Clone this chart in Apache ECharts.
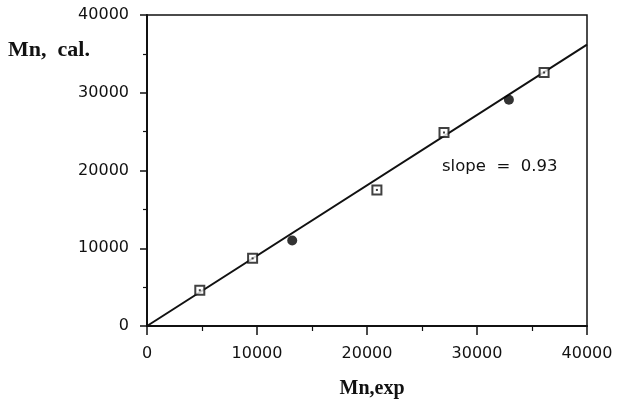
<!DOCTYPE html>
<html>
<head>
<meta charset="utf-8">
<script src="https://cdn.jsdelivr.net/npm/echarts@6/dist/echarts.min.js"></script>
<style>
  html, body { margin: 0; padding: 0; background: #fff; }
  #chart { width: 619px; height: 400px; }
</style>
</head>
<body>
<div id="chart"></div>
<script>
  // measured points (open squares / filled circles)
  const squareX = [4800, 9600, 20900, 27000, 36100]
  const squareY = [4600, 8700, 17500, 24900, 32600]
  const circleX = [13200, 32900]
  const circleY = [11000, 29100]
  // fitted line end points
  const fitX = [0, 40000]
  const fitY = [0, 36200]
  const slopeText = 'slope  =  0.93'

  const pairs = (xs, ys) => xs.map((x, i) => [x, ys[i]])

  const myChart = echarts.init(document.getElementById('chart'))
  const tickFont = { color: '#111', fontSize: 16, fontFamily: 'DejaVu Sans', formatter: v => String(v) }

  const option = {
    animation: false,
    grid: {
      left: 147, top: 15, width: 440, height: 311,
      outerBoundsMode: 'none', containLabel: false,
      show: true, borderColor: '#111', borderWidth: 1.5, backgroundColor: 'transparent'
    },
    xAxis: {
      type: 'value', min: 0, max: 40000, interval: 10000,
      name: 'Mn,exp', nameLocation: 'middle', nameGap: 53,
      nameTextStyle: { color: '#111', fontSize: 20, fontWeight: 'bold', fontFamily: 'Liberation Serif', padding: [0, 0, 0, 10] },
      axisLine: { lineStyle: { color: '#111', width: 2 } },
      axisTick: { length: 9, lineStyle: { color: '#111', width: 1.5 } },
      minorTick: { show: true, splitNumber: 2, length: 5, lineStyle: { color: '#111', width: 1.2 } },
      splitLine: { show: false },
      axisLabel: Object.assign({ margin: 20 }, tickFont)
    },
    yAxis: {
      type: 'value', min: 0, max: 40000, interval: 10000,
      axisLine: { show: true, lineStyle: { color: '#111', width: 2 } },
      axisTick: { show: true, length: 7, lineStyle: { color: '#111', width: 1.5 } },
      minorTick: { show: true, splitNumber: 2, length: 4, lineStyle: { color: '#111', width: 1.2 } },
      splitLine: { show: false },
      axisLabel: Object.assign({ margin: 18 }, tickFont)
    },
    graphic: [
      {
        type: 'text', left: 8, top: 39,
        style: { text: 'Mn,  cal.', fill: '#111', font: 'bold 22px "Liberation Serif"' }
      },
      {
        type: 'text', left: 442, top: 158,
        style: { text: slopeText, fill: '#111', font: '16.5px "DejaVu Sans"' }
      }
    ],
    series: [
      {
        type: 'line',
        data: pairs(fitX, fitY),
        symbol: 'none',
        lineStyle: { color: '#111', width: 2 },
        z: 2
      },
      {
        type: 'scatter',
        data: pairs(squareX, squareY),
        symbol: 'rect',
        symbolSize: 9,
        itemStyle: { color: '#fff', borderColor: '#111', borderWidth: 2 },
        z: 3
      },
      {
        type: 'scatter',
        data: pairs(squareX, squareY),
        symbol: 'rect',
        symbolSize: 2,
        itemStyle: { color: '#111' },
        z: 4
      },
      {
        type: 'scatter',
        data: pairs(circleX, circleY),
        symbol: 'circle',
        symbolSize: 10,
        itemStyle: { color: '#000' },
        z: 3
      }
    ]
  }

  myChart.setOption(option)
  window.addEventListener('resize', function () {
    myChart.resize()
  })
</script>
</body>
</html>
